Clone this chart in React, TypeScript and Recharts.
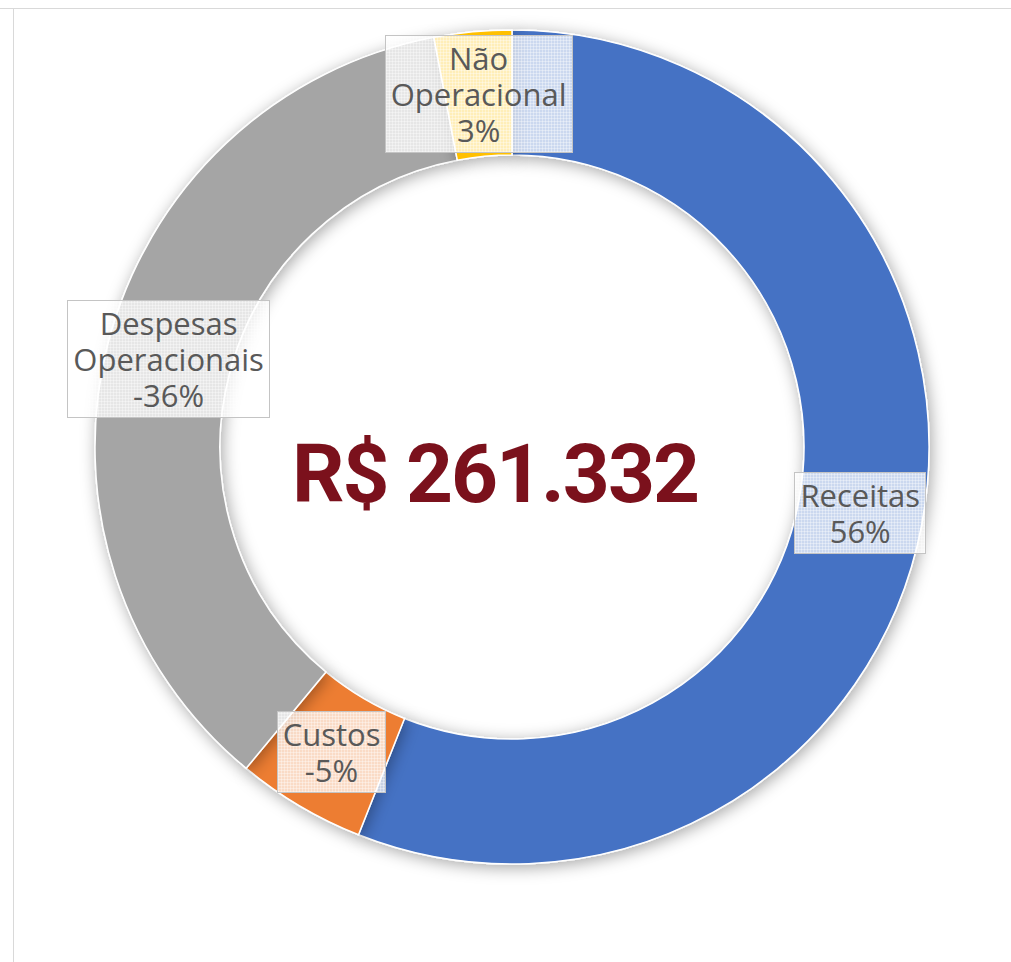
import React from 'react'
import { PieChart, Pie, Cell } from 'recharts'

// shares of the result, sign as shown in the labels
const categories = ['Receitas', 'Custos', 'Despesas Operacionais', 'Não Operacional']
const shares = [56, -5, -36, 3]
const colors = ['#4472C4', '#ED7D31', '#A5A5A5', '#FFC000']
const totalLabel = 'R$ 261.332'

const data = categories.map((name, i) => ({
  name,
  signed: shares[i],
  value: Math.abs(shares[i]),
}))

const CX = 512
const CY = 447
const RAD = Math.PI / 180

const boxStyle: React.CSSProperties = {
  border: '1px solid #c4c4c4',
  backgroundColor: 'rgba(255,255,255,0.72)',
  backgroundImage:
    'repeating-linear-gradient(0deg, rgba(255,255,255,0.35) 0 1px, transparent 1px 3px), repeating-linear-gradient(90deg, rgba(255,255,255,0.35) 0 1px, transparent 1px 3px)',
  padding: '4px 5px',
  color: '#595959',
  fontFamily: '"Open Sans", sans-serif',
  fontSize: 31,
  lineHeight: '36px',
  textAlign: 'center',
  whiteSpace: 'nowrap',
}

function SliceLabel(props: any) {
  const { cx, cy, midAngle, innerRadius, outerRadius, percent, payload } = props
  const r = (innerRadius + outerRadius) / 2
  const x = cx + r * Math.cos(-midAngle * RAD)
  const y = cy + r * Math.sin(-midAngle * RAD)
  const sign = payload.signed < 0 ? '-' : ''
  const lines = String(payload.name).split(' ')
  return (
    <foreignObject x={x - 150} y={y - 90} width={300} height={180}>
      <div
        style={{
          width: 300,
          height: 180,
          display: 'flex',
          alignItems: 'center',
          justifyContent: 'center',
        }}
      >
        <div style={boxStyle}>
          {lines.map((l) => (
            <div key={l}>{l}</div>
          ))}
          <div>{sign + Math.round(percent * 100) + '%'}</div>
        </div>
      </div>
    </foreignObject>
  )
}

export default function App() {
  return (
    <div style={{ position: 'relative', width: 1011, height: 962, background: '#fff', overflow: 'hidden' }}>
      <style>{'body{margin:0}'}</style>
      <svg width={0} height={0} style={{ position: 'absolute' }}>
        <defs>
          <filter id="ringShadow" x="-20%" y="-20%" width="140%" height="140%">
            <feDropShadow dx="2" dy="3" stdDeviation="8" floodColor="#000" floodOpacity="0.35" />
          </filter>
        </defs>
      </svg>
      <div style={{ position: 'absolute', left: 0, top: 8, width: 1011, height: 1, background: '#d9d9d9' }} />
      <div style={{ position: 'absolute', left: 13, top: 8, width: 1, height: 954, background: '#d9d9d9' }} />
      <div style={{ position: 'absolute', left: 0, top: 0 }}>
        <PieChart width={1011} height={962} margin={{ top: 0, right: 0, bottom: 0, left: 0 }}>
          <Pie
            data={data}
            dataKey="value"
            nameKey="name"
            cx={CX}
            cy={CY}
            innerRadius={292}
            outerRadius={417}
            startAngle={90}
            endAngle={-270}
            stroke="#fff"
            strokeWidth={1.5}
            label={SliceLabel}
            labelLine={false}
            isAnimationActive={false}
          >
            {data.map((d, i) => (
              <Cell key={d.name} fill={colors[i]} filter="url(#ringShadow)" />
            ))}
          </Pie>
        </PieChart>
      </div>
      <svg width={1011} height={962} style={{ position: 'absolute', left: 0, top: 0, pointerEvents: 'none' }}>
        <text
          x={CX - 17}
          y={CY + 55}
          textAnchor="middle"
          fill="#7B111C"
          fontFamily="Roboto, sans-serif"
          fontWeight={700}
          fontSize={82}
          letterSpacing={-2}
        >
          {totalLabel}
        </text>
      </svg>
    </div>
  )
}
